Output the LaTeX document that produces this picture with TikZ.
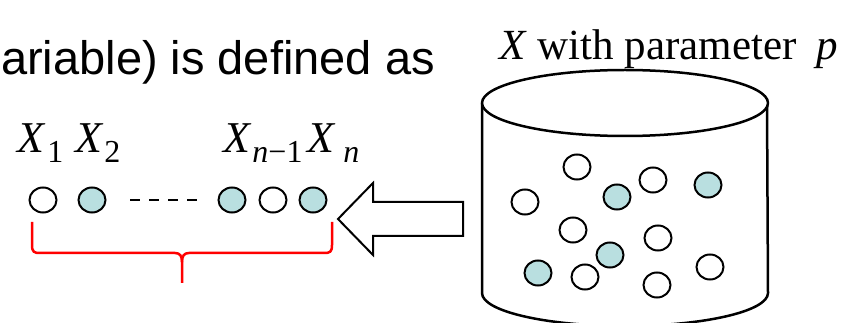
\documentclass[tikz,border=0pt]{standalone}
\usepackage{fontspec}
\setmainfont{Liberation Serif}
\newfontfamily\arialfont{Liberation Sans}
\usetikzlibrary{shapes.geometric}
\definecolor{ballfill}{HTML}{B9DFE0}
\definecolor{bracered}{HTML}{FF0000}
\tikzset{
  ball/.style={ellipse, draw=black, line width=2pt, minimum width=27pt, minimum height=25pt, inner sep=0pt, fill=white},
  fullball/.style={ball, fill=ballfill},
  lbl/.style={inner sep=0pt, font=\fontsize{44}{50}\selectfont, anchor=base west},
  cyl/.style={draw=black, line width=2.5pt, line join=round},
}
\newcommand{\subs}[1]{\raisebox{-10pt}{\fontsize{32}{34}\selectfont #1}}
\begin{document}
\begin{tikzpicture}[x=1pt,y=-1pt]
\useasboundingbox (0,0) rectangle (868,323);
% heading text
\node[inner sep=0pt, anchor=base east, font=\arialfont\fontsize{47}{56}\selectfont] (head) at (435,75) {ariable) is defined as};
\node[inner sep=0pt, anchor=base west, font=\fontsize{43}{50}\selectfont] (title) at (499,60) {\textit{X} with parameter\hspace{0.45em}\textit{p}};
% labels
\node[lbl] (l1) at (17,153) {\textit{X}\hspace{2pt}\subs{1}};
\node[lbl] (l2) at (75,153) {\textit{X}\hspace{1pt}\subs{2}};
\node[lbl] (l3) at (223,153) {\textit{X}\hspace{1pt}\subs{\textit{n}−1}};
\node[lbl] (l4) at (307,153) {\textit{X}\hspace{8pt}\subs{\textit{n}}};
% sample row
\node[ball] (s1) at (43,200) {};
\node[fullball] (s2) at (92,200) {};
\coordinate (d1) at (130,200);
\coordinate (d2) at (197,200);
\draw[line width=2pt, dash pattern=on 10pt off 9pt] (d1) -- (d2);
\node[fullball] (s3) at (232,200) {};
\node[ball] (s4) at (273,200) {};
\node[fullball] (s5) at (313,200) {};
% brace
\coordinate (bl) at (32,222);
\coordinate (br) at (332,222);
\coordinate (bm) at (182,283);
\draw[draw=bracered, line width=2.5pt, line join=round]
  (bl) -- (32,245) .. controls (32,252) and (34,253) .. (40,253)
  -- (175,253) .. controls (180,253) and (182,256) .. (182,262) -- (bm);
\draw[draw=bracered, line width=2.5pt, line join=round]
  (br) -- (332,245) .. controls (332,252) and (330,253) .. (324,253)
  -- (189,253) .. controls (184,253) and (182,256) .. (182,262);
% big hollow arrow
\draw[line width=2pt, line join=miter, fill=white]
  (338,219) -- (373,183) -- (373,202) -- (463,202) -- (463,236) -- (373,236) -- (373,255) -- cycle;
% cylinder
\coordinate (ctop) at (625,103);
\coordinate (cbot) at (625,293);
\fill[white] (482,103) -- (482,293) arc[start angle=180, end angle=360, x radius=143pt, y radius=33pt] -- (767,103) -- cycle;
\draw[cyl] (482,103) -- (482,293) arc[start angle=180, end angle=360, x radius=143pt, y radius=33pt] -- (767,103);
\draw[cyl, fill=white] (ctop) ellipse[x radius=143pt, y radius=33pt];
% population balls
\node[ball] (p1) at (577,167) {};
\node[ball] (p2) at (653,180) {};
\node[fullball] (p3) at (617,197) {};
\node[fullball] (p4) at (708,185) {};
\node[ball] (p5) at (525,202) {};
\node[ball] (p6) at (573,230) {};
\node[ball] (p7) at (658,238) {};
\node[fullball] (p8) at (610,255) {};
\node[fullball] (p9) at (538,273) {};
\node[ball] (p10) at (585,277) {};
\node[ball] (p11) at (657,285) {};
\node[ball] (p12) at (710,267) {};
\end{tikzpicture}
\end{document}
